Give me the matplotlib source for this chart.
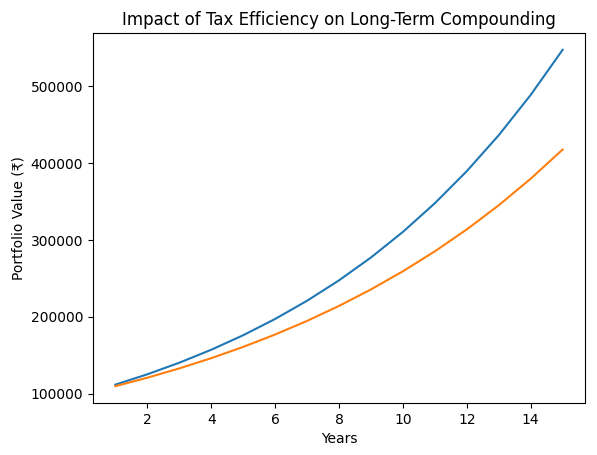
import matplotlib
matplotlib.use('Agg')
import matplotlib.pyplot as plt

# ── Data ───────────────────────────────────────────────────────────────────────
years = [1, 2, 3, 4, 5, 6, 7, 8, 9, 10, 11, 12, 13, 14, 15]
tax_efficient = [112000, 125440, 140490, 157350, 176230, 197380, 221070, 247600,
                 277310, 310590, 347860, 389600, 436350, 488710, 547360]
tax_inefficient = [110000, 121000, 133100, 146410, 161050, 177160, 194870, 214360,
                   235800, 259370, 285310, 313840, 345230, 379750, 417720]

fig = plt.figure(figsize=(5.97, 4.55), dpi=100)
ax = fig.add_axes([93 / 597, 1 - 403 / 455, (585 - 93) / 597, (403 - 33) / 455])

ax.plot(years, tax_efficient, color='#1f77b4')
ax.plot(years, tax_inefficient, color='#ff7f0e')

ax.set_title('Impact of Tax Efficiency on Long-Term Compounding')
ax.set_xlabel('Years')
ax.set_ylabel('Portfolio Value (₹)')

fig.savefig('out.png', dpi=100)
